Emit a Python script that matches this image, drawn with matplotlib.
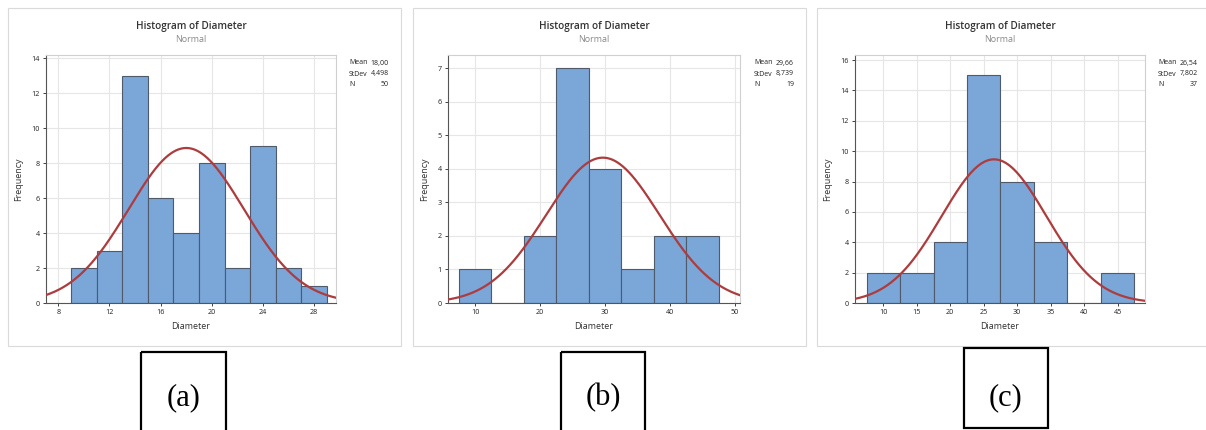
import numpy as np
import matplotlib
matplotlib.use("Agg")
import matplotlib.pyplot as plt
from matplotlib.patches import Rectangle

W, H = 1206, 430

# ---- data ----
edges_a = [9, 11, 13, 15, 17, 19, 21, 23, 25, 27, 29]
counts_a = [2, 3, 13, 6, 4, 8, 2, 9, 2, 1]
mean_a, sd_a, n_a = 18.00, 4.498, 50
xticks_a = [8, 12, 16, 20, 24, 28]
yticks_a = [0, 2, 4, 6, 8, 10, 12, 14]

edges_b = [7.5, 12.5, 17.5, 22.5, 27.5, 32.5, 37.5, 42.5, 47.5]
counts_b = [1, 0, 2, 7, 4, 1, 2, 2]
mean_b, sd_b, n_b = 29.66, 8.739, 19
xticks_b = [10, 20, 30, 40, 50]
yticks_b = [0, 1, 2, 3, 4, 5, 6, 7]

edges_c = [7.5, 12.5, 17.5, 22.5, 27.5, 32.5, 37.5, 42.5, 47.5]
counts_c = [2, 2, 4, 15, 8, 4, 0, 2]
mean_c, sd_c, n_c = 26.54, 7.802, 37
xticks_c = [10, 15, 20, 25, 30, 35, 40, 45]
yticks_c = [0, 2, 4, 6, 8, 10, 12, 14, 16]

labels = ["(a)", "(b)", "(c)"]
mean_txt = ["18,00", "29,66", "26,54"]
sd_txt = ["4,498", "8,739", "7,802"]
n_txt = ["50", "19", "37"]

BAR = "#7BA6D8"
EDGE = "#4f5a6a"
CURVE = "#AD3C3E"
GRID = "#E6E6E6"
TXT = "#222222"
FONT = "Open Sans"

fig = plt.figure(figsize=(W / 100, H / 100), dpi=100)
fig.patch.set_facecolor("white")


def px_axes(x0, y0, x1, y1, **kw):
    return fig.add_axes([x0 / W, 1 - y1 / H, (x1 - x0) / W, (y1 - y0) / H], **kw)


panels = [
    dict(frame=(8, 8, 401, 346), ax=(46, 55, 336, 303), xlim=(7.04, 29.7), ylim=(0, 14.19),
         edges=edges_a, counts=counts_a, mean=mean_a, sd=sd_a, n=n_a, xt=xticks_a, yt=yticks_a,
         box=(141, 352, 226, 432)),
    dict(frame=(413, 8, 806, 346), ax=(448, 55, 740, 303), xlim=(5.8, 50.8), ylim=(0, 7.4),
         edges=edges_b, counts=counts_b, mean=mean_b, sd=sd_b, n=n_b, xt=xticks_b, yt=yticks_b,
         box=(561, 352, 645, 432)),
    dict(frame=(817, 8, 1210, 346), ax=(855, 55, 1145, 303), xlim=(5.77, 49.1), ylim=(0, 16.33),
         edges=edges_c, counts=counts_c, mean=mean_c, sd=sd_c, n=n_c, xt=xticks_c, yt=yticks_c,
         box=(964, 348, 1048, 428)),
]

ov = fig.add_axes([0, 0, 1, 1], zorder=0)
ov.set_xlim(0, W)
ov.set_ylim(H, 0)
ov.axis("off")

for i, p in enumerate(panels):
    fx0, fy0, fx1, fy1 = p["frame"]
    ov.add_patch(Rectangle((fx0, fy0), fx1 - fx0, fy1 - fy0, fill=False, ec="#DADADA", lw=0.8))
    bx0, by0, bx1, by1 = p["box"]
    ov.add_patch(Rectangle((bx0, by0), bx1 - bx0, by1 - by0, fill=False, ec="black", lw=1.6, clip_on=False))
    ov.text((bx0 + bx1) / 2, 398, labels[i], ha="center", va="center", fontsize=22,
            family="Liberation Serif", color="black")
    ax0, ay0, ax1, ay1 = p["ax"]
    cx = (ax0 + ax1) / 2
    ov.text(cx, 26, "Histogram of Diameter", ha="center", va="center", fontsize=7.2,
            family=FONT, color="#333333", fontweight="semibold")
    ov.text(cx, 40, "Normal", ha="center", va="center", fontsize=6.5, family=FONT, color="#8a8a8a")
    sx = fx0 + 341
    for j, (k, v) in enumerate(zip(["Mean", "StDev", "N"], [mean_txt[i], sd_txt[i], n_txt[i]])):
        ov.text(sx, 63 + j * 11, k, ha="left", va="center", fontsize=5, family=FONT, color=TXT)
        ov.text(sx + 40, 63 + j * 11, v, ha="right", va="center", fontsize=5, family=FONT, color=TXT)

    ax = px_axes(ax0, ay0, ax1, ay1, zorder=2)
    ax.set_facecolor("white")
    e = np.array(p["edges"], dtype=float)
    c = np.array(p["counts"], dtype=float)
    ax.bar(e[:-1], c, width=np.diff(e), align="edge", color=BAR, edgecolor=EDGE, lw=0.8, zorder=2)
    bw = e[1] - e[0]
    xs = np.linspace(p["xlim"][0], p["xlim"][1], 400)
    ys = p["n"] * bw * np.exp(-0.5 * ((xs - p["mean"]) / p["sd"]) ** 2) / (p["sd"] * np.sqrt(2 * np.pi))
    ax.plot(xs, ys, color=CURVE, lw=1.6, zorder=3)
    ax.set_xlim(*p["xlim"])
    ax.set_ylim(*p["ylim"])
    ax.set_xticks(p["xt"])
    ax.set_yticks(p["yt"])
    ax.grid(True, color=GRID, lw=0.8, zorder=0)
    ax.set_axisbelow(True)
    ax.tick_params(labelsize=5.2, length=2.5, width=0.6, colors=TXT, pad=2)
    for lab in ax.get_xticklabels() + ax.get_yticklabels():
        lab.set_family(FONT)
    for s in ["top", "right"]:
        ax.spines[s].set_color("#D0D0D0")
        ax.spines[s].set_linewidth(0.8)
    for s in ["left", "bottom"]:
        ax.spines[s].set_color("#555555")
        ax.spines[s].set_linewidth(0.8)
    ax.set_xlabel("Diameter", fontsize=6.5, family=FONT, color="#333333", labelpad=4)
    ax.set_ylabel("Frequency", fontsize=6.5, family=FONT, color="#333333", labelpad=6)

fig.savefig("out.png", dpi=100, facecolor="white")
